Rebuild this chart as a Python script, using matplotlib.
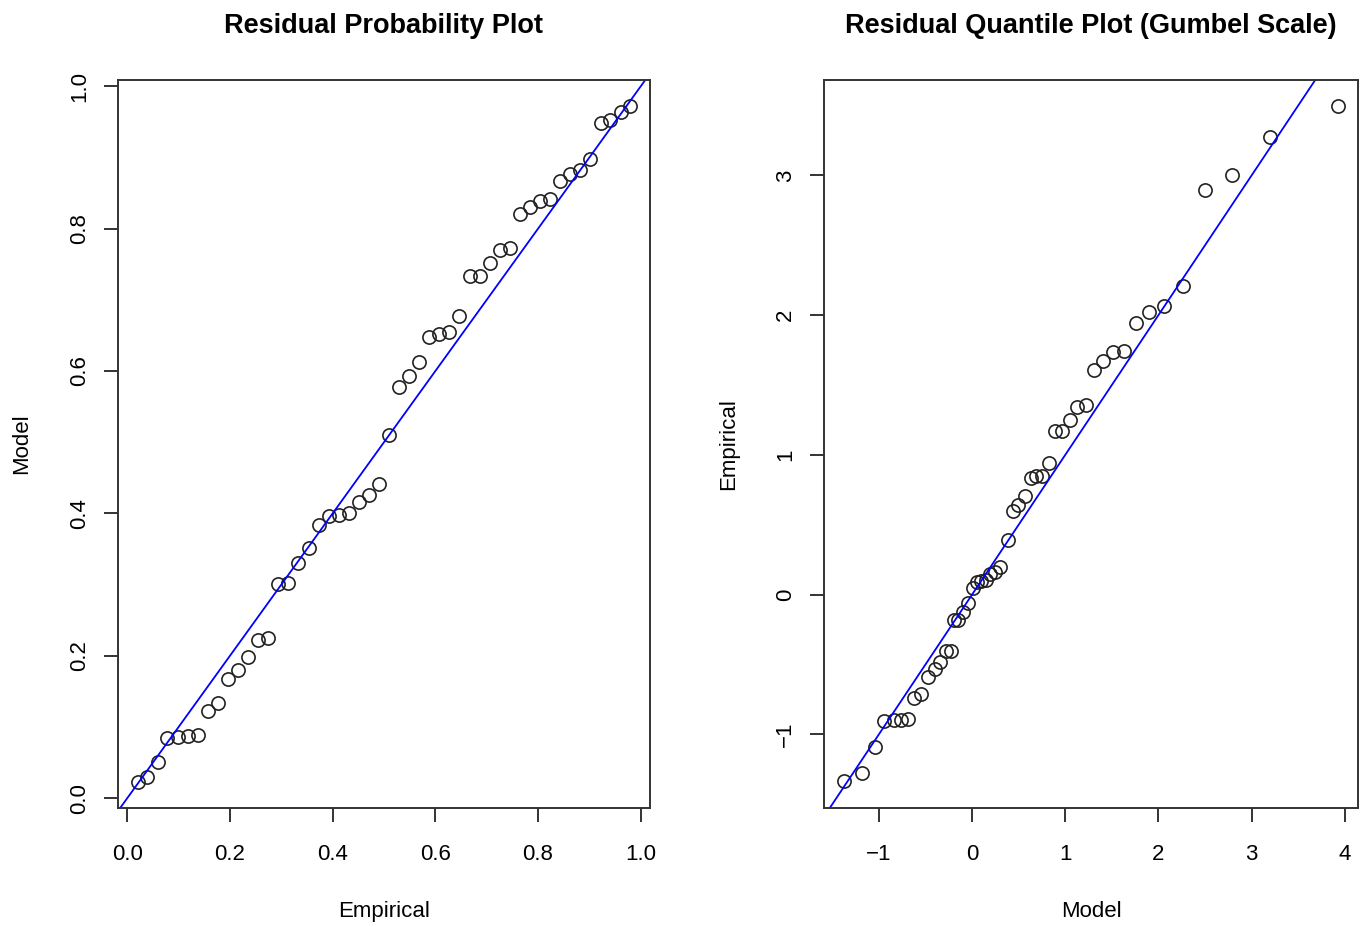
import matplotlib
matplotlib.use("Agg")
import matplotlib.pyplot as plt
import numpy as np

plt.rcParams['font.family'] = ['Liberation Sans', 'DejaVu Sans']

# probability plot: empirical plotting positions vs fitted model probabilities
prob_empirical = [0.020, 0.039, 0.059, 0.078, 0.098, 0.118, 0.137, 0.157, 0.176, 0.196,
                  0.216, 0.235, 0.255, 0.275, 0.294, 0.314, 0.333, 0.353, 0.373, 0.392,
                  0.412, 0.431, 0.451, 0.471, 0.490, 0.510, 0.529, 0.549, 0.569, 0.588,
                  0.608, 0.627, 0.647, 0.667, 0.686, 0.706, 0.725, 0.745, 0.765, 0.784,
                  0.804, 0.824, 0.843, 0.863, 0.882, 0.902, 0.922, 0.941, 0.961, 0.980]
prob_model = [0.023, 0.030, 0.051, 0.084, 0.086, 0.087, 0.089, 0.122, 0.134, 0.167,
              0.180, 0.198, 0.222, 0.225, 0.301, 0.302, 0.330, 0.352, 0.384, 0.397,
              0.398, 0.401, 0.416, 0.426, 0.441, 0.510, 0.578, 0.593, 0.613, 0.648,
              0.652, 0.655, 0.678, 0.734, 0.734, 0.752, 0.770, 0.773, 0.820, 0.831,
              0.839, 0.841, 0.867, 0.877, 0.882, 0.898, 0.948, 0.953, 0.964, 0.972]

# quantile plot on the Gumbel scale
quant_model = [-1.377, -1.183, -1.043, -0.946, -0.838, -0.763, -0.688, -0.623, -0.548, -0.472,
               -0.397, -0.343, -0.278, -0.224, -0.192, -0.149, -0.095, -0.041, 0.013, 0.056,
               0.099, 0.153, 0.196, 0.250, 0.304, 0.390, 0.444, 0.498, 0.573, 0.638,
               0.692, 0.746, 0.821, 0.886, 0.961, 1.047, 1.123, 1.220, 1.306, 1.403,
               1.511, 1.629, 1.759, 1.899, 2.060, 2.265, 2.502, 2.793, 3.203, 3.925]
quant_empirical = [-1.336, -1.272, -1.093, -0.907, -0.893, -0.893, -0.886, -0.742, -0.707, -0.592,
                   -0.535, -0.478, -0.406, -0.406, -0.184, -0.184, -0.120, -0.056, 0.045, 0.088,
                   0.095, 0.102, 0.145, 0.166, 0.195, 0.395, 0.596, 0.639, 0.703, 0.832,
                   0.846, 0.853, 0.939, 1.168, 1.168, 1.247, 1.340, 1.354, 1.605, 1.669,
                   1.734, 1.741, 1.941, 2.020, 2.063, 2.206, 2.893, 3.000, 3.272, 3.494]

W, H = 1365, 927
fig = plt.figure(figsize=(W / 100, H / 100), dpi=100)


def frac(x0, y0, x1, y1):
    return [x0 / W, 1 - y1 / H, (x1 - x0) / W, (y1 - y0) / H]


def style(ax):
    for s in ax.spines.values():
        s.set_linewidth(1.4)
        s.set_color('#333333')
    ax.tick_params(direction='out', length=10, width=1.4, color='#333333', labelsize=16)
    ax.tick_params(axis='x', pad=16)
    ax.tick_params(axis='y', pad=10)
    for lab in ax.get_yticklabels():
        lab.set_rotation(90)
        lab.set_va('center')


ax1 = fig.add_axes(frac(118, 80, 650, 808))
ax1.plot(prob_empirical, prob_model, 'o', mfc='none', mec='#222222', ms=9.5, mew=1.2)
ax1.axline((0, 0), slope=1, color='#0000ff', lw=1.3)
ax1.set_xlim(-0.018, 1.018)
ax1.set_ylim(-0.0138, 1.0088)
ax1.set_xticks(np.arange(0, 1.01, 0.2))
ax1.set_yticks(np.arange(0, 1.01, 0.2))
ax1.set_xticklabels(['0.0', '0.2', '0.4', '0.6', '0.8', '1.0'])
ax1.set_yticklabels(['0.0', '0.2', '0.4', '0.6', '0.8', '1.0'])
ax1.set_title('Residual Probability Plot', fontsize=19.5, fontweight='bold', pad=34)
ax1.set_xlabel('Empirical', fontsize=16, labelpad=26)
ax1.set_ylabel('Model', fontsize=16, labelpad=26.5)
style(ax1)

ax2 = fig.add_axes(frac(824, 80, 1358, 808))
ax2.plot(quant_model, quant_empirical, 'o', mfc='none', mec='#222222', ms=9.5, mew=1.2)
ax2.axline((0, 0), slope=1, color='#0000ff', lw=1.3)
ax2.set_xlim(-1.588, 4.142)
ax2.set_ylim(-1.526, 3.683)
ax2.set_xticks([-1, 0, 1, 2, 3, 4])
ax2.set_yticks([-1, 0, 1, 2, 3])
ax2.set_xticklabels(['\u22121', '0', '1', '2', '3', '4'])
ax2.set_yticklabels(['\u22121', '0', '1', '2', '3'])
ax2.set_title('Residual Quantile Plot (Gumbel Scale)', fontsize=19.5, fontweight='bold', pad=34)
ax2.set_xlabel('Model', fontsize=16, labelpad=26)
ax2.set_ylabel('Empirical', fontsize=16, labelpad=26)
style(ax2)

fig.savefig('out.png', dpi=100)
